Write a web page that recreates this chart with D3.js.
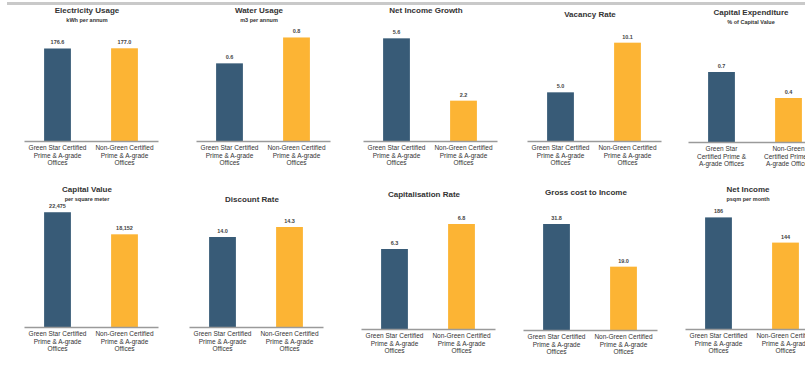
<!DOCTYPE html>
<html>
<head>
<meta charset="utf-8">
<script src="https://cdn.jsdelivr.net/npm/d3@7"></script>
<style>
  body { margin: 0; background: #fff; }
  svg { display: block; font-family: "Liberation Sans", Arial, sans-serif; }
</style>
</head>
<body>
<svg id="chart"></svg>
<script>
// one panel per metric, two bars each
var titles = ["Electricity Usage", "Water Usage", "Net Income Growth", "Vacancy Rate", "Capital Expenditure",
              "Capital Value", "Discount Rate", "Capitalisation Rate", "Gross cost to Income", "Net Income"]
var subtitles = ["kWh per annum", "m3 per annum", "", "", "% of Capital Value",
                 "per square meter", "", "", "", "psqm per month"]
var categories = ["Green Star", "Non-Green"]
var greenStar = [176.6, 0.6, 5.6, 5.0, 0.7, 22475, 14.0, 6.3, 31.8, 186]
var nonGreen = [177.0, 0.8, 2.2, 10.1, 0.44, 18152, 14.3, 6.8, 19.0, 144]
var axisMin = [0, 0, 0, 0, 0, 0, 11.3, 4.7, 0, 0]
var axisMax = [210, 0.85, 6, 11.3, 1.1, 23500, 14.9, 7.1, 36, 200]
var labelFormats = [".1f", ".1f", ".1f", ".1f", ".1f", ",.0f", ".1f", ".1f", ".1f", ".0f"]
var tickLabels = [
    ["Green Star Certified", "Prime & A-grade", "Offices"],
    ["Non-Green Certified", "Prime & A-grade", "Offices"]
]
var tickLabelsNarrow = [
    ["Green Star", "Certified Prime &", "A-grade Offices"],
    ["Non-Green", "Certified Prime &", "A-grade Offices"]
]

var dimensions = { width: 805, height: 376, panelWidth: 134 }
var panelX = [24, 196, 363, 527, 688, 24, 189, 361, 523, 685]
var panelBase = [141, 141, 141, 141, 142, 327, 327, 329, 330, 329]
var plotHeight = [110, 110, 110, 110, 110, 120, 120, 120, 120, 120]
var titleY = [13, 13, 13, 17, 15, 192, 202, 197, 195, 192]

var colors = { green: "#385b77", other: "#fcb434", axis: "#9a9a9a", text: "#333" }

var svg = d3.select("#chart")
    .attr("width", dimensions.width)
    .attr("height", dimensions.height)

// gray rule across the top
svg.append("line")
    .attr("x1", 7).attr("x2", dimensions.width)
    .attr("y1", 3.5).attr("y2", 3.5)
    .attr("stroke", "#c9c9c9")
    .attr("stroke-width", 3)

titles.forEach(function (title, i) {
    var g = svg.append("g")
        .attr("transform", "translate(" + panelX[i] + ",0)")

    var xScale = d3.scaleBand()
        .domain(categories)
        .range([0, dimensions.panelWidth])
        .paddingInner(0.6)
        .paddingOuter(0.3)

    var yScale = d3.scaleLinear()
        .domain([axisMin[i], axisMax[i]])
        .range([panelBase[i], panelBase[i] - plotHeight[i]])

    var values = [greenStar[i], nonGreen[i]]
    var fmt = d3.format(labelFormats[i])

    g.selectAll("rect")
        .data(values)
        .enter()
        .append("rect")
        .attr("x", function (d, j) { return xScale(categories[j]) })
        .attr("width", xScale.bandwidth())
        .attr("y", function (d) { return yScale(d) })
        .attr("height", function (d) { return panelBase[i] - yScale(d) })
        .attr("fill", function (d, j) { return j === 0 ? colors.green : colors.other })

    g.selectAll(".value")
        .data(values)
        .enter()
        .append("text")
        .attr("class", "value")
        .attr("x", function (d, j) { return xScale(categories[j]) + xScale.bandwidth() / 2 })
        .attr("y", function (d) { return yScale(d) - 4 })
        .attr("text-anchor", "middle")
        .style("font-size", "5.5px")
        .style("font-weight", "bold")
        .style("fill", "#444")
        .text(function (d) { return fmt(d) })

    var xAxis = d3.axisBottom(xScale).tickSize(0).tickFormat("")
    var axisG = g.append("g")
        .attr("transform", "translate(0," + panelBase[i] + ")")
        .call(xAxis)
    axisG.select(".domain")
        .attr("stroke", colors.axis)
        .attr("stroke-width", 1.6)

    var lines = (i === 4) ? tickLabelsNarrow : tickLabels
    categories.forEach(function (c, j) {
        var t = g.append("text")
            .attr("text-anchor", "middle")
            .style("font-size", "6.5px")
            .style("fill", colors.text)
        lines[j].forEach(function (line, k) {
            t.append("tspan")
                .attr("x", xScale(c) + xScale.bandwidth() / 2)
                .attr("y", panelBase[i] + 9 + k * 7.5)
                .text(line)
        })
    })

    g.append("text")
        .attr("x", dimensions.panelWidth / 2 - 4)
        .attr("y", titleY[i])
        .attr("text-anchor", "middle")
        .style("font-size", "8px")
        .style("font-weight", "bold")
        .style("fill", colors.text)
        .text(title)

    if (subtitles[i]) {
        g.append("text")
            .attr("x", dimensions.panelWidth / 2 - 4)
            .attr("y", titleY[i] + 9)
            .attr("text-anchor", "middle")
            .style("font-size", "5.5px")
            .style("font-weight", "bold")
            .style("fill", colors.text)
            .text(subtitles[i])
    }
})
</script>
</body>
</html>
